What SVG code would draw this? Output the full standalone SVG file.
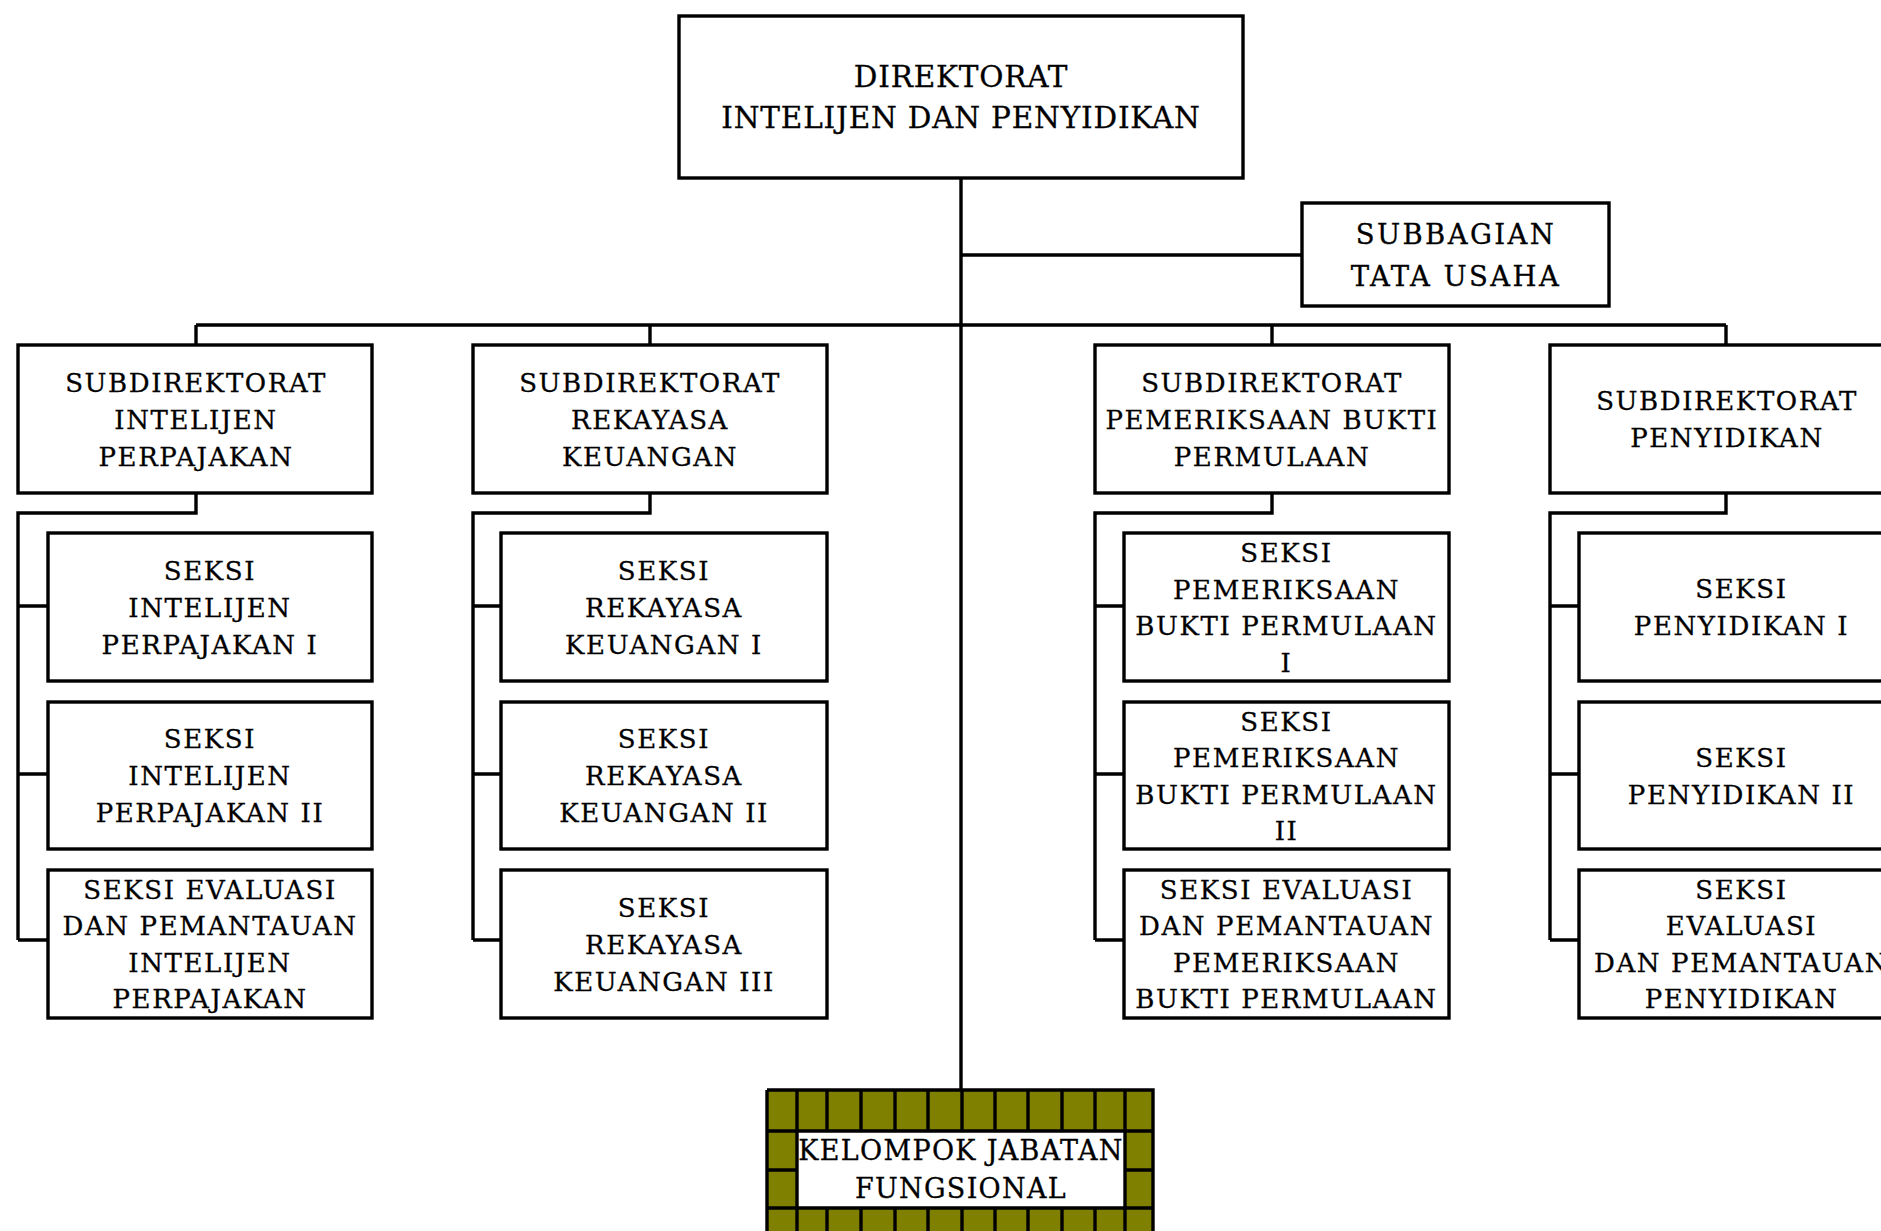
<svg xmlns="http://www.w3.org/2000/svg" width="1881" height="1231" viewBox="0 0 1881 1231">
<style>
.box{fill:#fff;stroke:#000;stroke-width:3.4}
.ln{fill:none;stroke:#000;stroke-width:3.4}
.t{font-family:"DejaVu Serif",serif;font-size:26px;letter-spacing:1.6px;text-anchor:middle;fill:#000;stroke:#000;stroke-width:0.3}
.dir{font-size:29.5px;letter-spacing:0.8px}
.sb{font-size:27.5px;letter-spacing:2.4px}
.kf{font-size:27px;letter-spacing:1.3px}
.olive{fill:#808000}
</style>
<rect width="1881" height="1231" fill="#fff"/>
<g id="connectors">
<path class="ln" d="M961 177V1090"/>
<path class="ln" d="M961 255H1302"/>
<path class="ln" d="M196 325H1726"/>
<path class="ln" d="M196 325V345M650 325V345M1272 325V345M1726 325V345"/>
<path class="ln" d="M196 493V513H18V940M18 606H48M18 774H48M18 940H48"/>
<path class="ln" d="M650 493V513H473V940M473 606H501M473 774H501M473 940H501"/>
<path class="ln" d="M1272 493V513H1095V940M1095 606H1124M1095 774H1124M1095 940H1124"/>
<path class="ln" d="M1726 493V513H1550V940M1550 606H1579M1550 774H1579M1550 940H1579"/>
</g>
<g id="direktorat">
<rect class="box" x="679" y="16" width="564" height="162"/>
<text class="t dir" x="961" y="87">DIREKTORAT</text>
<text class="t dir" x="961" y="128">INTELIJEN DAN PENYIDIKAN</text>
</g>
<g id="subbagian">
<rect class="box" x="1302" y="203" width="307" height="103"/>
<text class="t sb" x="1456" y="244">SUBBAGIAN</text>
<text class="t sb" x="1456" y="285.5">TATA USAHA</text>
</g>
<g id="subdit-intelijen">
<rect class="box" x="18" y="345" width="354" height="148"/>
<text class="t" x="196" y="391.5">SUBDIREKTORAT</text>
<text class="t" x="196" y="428.5">INTELIJEN</text>
<text class="t" x="196" y="465.5">PERPAJAKAN</text>
</g>
<g id="seksi-intelijen-1">
<rect class="box" x="48" y="533" width="324" height="148"/>
<text class="t" x="210" y="579.5">SEKSI</text>
<text class="t" x="210" y="616.5">INTELIJEN</text>
<text class="t" x="210" y="653.5">PERPAJAKAN I</text>
</g>
<g id="seksi-intelijen-2">
<rect class="box" x="48" y="702" width="324" height="147"/>
<text class="t" x="210" y="748">SEKSI</text>
<text class="t" x="210" y="785">INTELIJEN</text>
<text class="t" x="210" y="822">PERPAJAKAN II</text>
</g>
<g id="seksi-evaluasi-intelijen">
<rect class="box" x="48" y="870" width="324" height="148"/>
<text class="t" x="210" y="898.5">SEKSI EVALUASI</text>
<text class="t" x="210" y="935">DAN PEMANTAUAN</text>
<text class="t" x="210" y="971.5">INTELIJEN</text>
<text class="t" x="210" y="1008">PERPAJAKAN</text>
</g>
<g id="subdit-rekayasa">
<rect class="box" x="473" y="345" width="354" height="148"/>
<text class="t" x="650" y="391.5">SUBDIREKTORAT</text>
<text class="t" x="650" y="428.5">REKAYASA</text>
<text class="t" x="650" y="465.5">KEUANGAN</text>
</g>
<g id="seksi-rekayasa-1">
<rect class="box" x="501" y="533" width="326" height="148"/>
<text class="t" x="664" y="579.5">SEKSI</text>
<text class="t" x="664" y="616.5">REKAYASA</text>
<text class="t" x="664" y="653.5">KEUANGAN I</text>
</g>
<g id="seksi-rekayasa-2">
<rect class="box" x="501" y="702" width="326" height="147"/>
<text class="t" x="664" y="748">SEKSI</text>
<text class="t" x="664" y="785">REKAYASA</text>
<text class="t" x="664" y="822">KEUANGAN II</text>
</g>
<g id="seksi-rekayasa-3">
<rect class="box" x="501" y="870" width="326" height="148"/>
<text class="t" x="664" y="916.5">SEKSI</text>
<text class="t" x="664" y="953.5">REKAYASA</text>
<text class="t" x="664" y="990.5">KEUANGAN III</text>
</g>
<g id="subdit-pemeriksaan">
<rect class="box" x="1095" y="345" width="354" height="148"/>
<text class="t" x="1272" y="391.5">SUBDIREKTORAT</text>
<text class="t" x="1272" y="428.5">PEMERIKSAAN BUKTI</text>
<text class="t" x="1272" y="465.5">PERMULAAN</text>
</g>
<g id="seksi-pemeriksaan-1">
<rect class="box" x="1124" y="533" width="325" height="148"/>
<text class="t" x="1286.5" y="562">SEKSI</text>
<text class="t" x="1286.5" y="598.5">PEMERIKSAAN</text>
<text class="t" x="1286.5" y="635">BUKTI PERMULAAN</text>
<text class="t" x="1286.5" y="671.5">I</text>
</g>
<g id="seksi-pemeriksaan-2">
<rect class="box" x="1124" y="702" width="325" height="147"/>
<text class="t" x="1286.5" y="730.5">SEKSI</text>
<text class="t" x="1286.5" y="767">PEMERIKSAAN</text>
<text class="t" x="1286.5" y="803.5">BUKTI PERMULAAN</text>
<text class="t" x="1286.5" y="840">II</text>
</g>
<g id="seksi-evaluasi-pemeriksaan">
<rect class="box" x="1124" y="870" width="325" height="148"/>
<text class="t" x="1286.5" y="898.5">SEKSI EVALUASI</text>
<text class="t" x="1286.5" y="935">DAN PEMANTAUAN</text>
<text class="t" x="1286.5" y="971.5">PEMERIKSAAN</text>
<text class="t" x="1286.5" y="1008">BUKTI PERMULAAN</text>
</g>
<g id="subdit-penyidikan">
<rect class="box" x="1550" y="345" width="354" height="148"/>
<text class="t" x="1727" y="410">SUBDIREKTORAT</text>
<text class="t" x="1727" y="447">PENYIDIKAN</text>
</g>
<g id="seksi-penyidikan-1">
<rect class="box" x="1579" y="533" width="325" height="148"/>
<text class="t" x="1741.5" y="598">SEKSI</text>
<text class="t" x="1741.5" y="635">PENYIDIKAN I</text>
</g>
<g id="seksi-penyidikan-2">
<rect class="box" x="1579" y="702" width="325" height="147"/>
<text class="t" x="1741.5" y="766.5">SEKSI</text>
<text class="t" x="1741.5" y="803.5">PENYIDIKAN II</text>
</g>
<g id="seksi-evaluasi-penyidikan">
<rect class="box" x="1579" y="870" width="325" height="148"/>
<text class="t" x="1741.5" y="898.5">SEKSI</text>
<text class="t" x="1741.5" y="935">EVALUASI</text>
<text class="t" x="1741.5" y="971.5">DAN PEMANTAUAN</text>
<text class="t" x="1741.5" y="1008">PENYIDIKAN</text>
</g>
<g id="kelompok-jabatan-fungsional">
<rect class="olive" x="767" y="1090" width="386" height="160"/>
<rect x="797" y="1131" width="328" height="77" fill="#fff"/>
<path class="ln" d="M767 1090H1153V1250M767 1090V1250M767 1131H1153M767 1208H1153M767 1170H797M1125 1170H1153M797 1090V1250M1125 1090V1250"/>
<path class="ln" d="M827 1090V1131M861 1090V1131M895 1090V1131M928 1090V1131M962 1090V1131M995 1090V1131M1028 1090V1131M1062 1090V1131M1095 1090V1131"/>
<path class="ln" d="M827 1208V1250M861 1208V1250M895 1208V1250M928 1208V1250M962 1208V1250M995 1208V1250M1028 1208V1250M1062 1208V1250M1095 1208V1250"/>
<text class="t kf" x="961" y="1160">KELOMPOK JABATAN</text>
<text class="t kf" x="961" y="1198">FUNGSIONAL</text>
</g>
</svg>
